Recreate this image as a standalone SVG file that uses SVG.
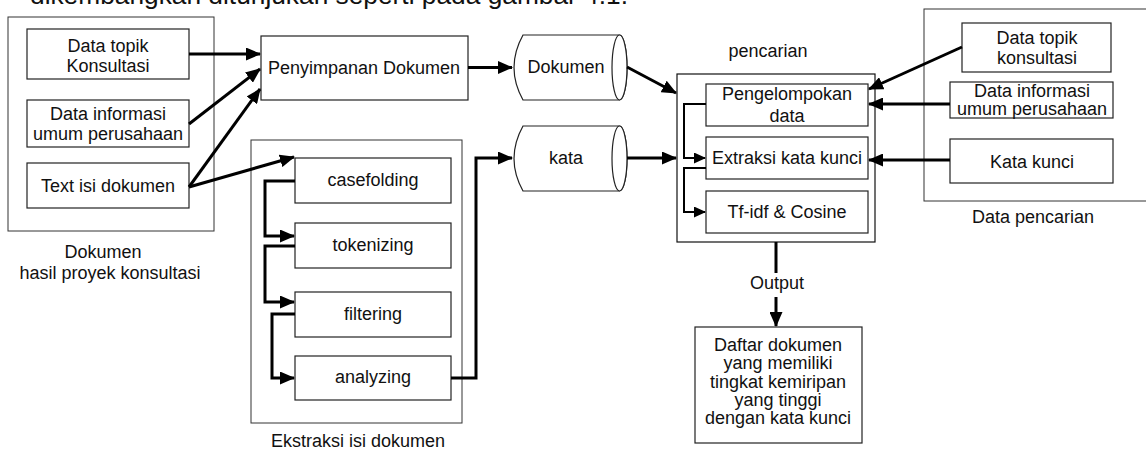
<svg xmlns="http://www.w3.org/2000/svg" width="1146" height="451" viewBox="0 0 1146 451">
<style>
.bg{fill:#fff}
.box{fill:#fff;stroke:#222;stroke-width:1.2}
.outer{fill:none;stroke:#333;stroke-width:1}
.t{font-family:"Liberation Sans",Arial,sans-serif;font-size:18px;fill:#111;text-anchor:middle}
.c{fill:none;stroke:#000;stroke-width:3}
.c2{fill:none;stroke:#000;stroke-width:2}
</style>
<defs>
<marker id="ah" markerUnits="userSpaceOnUse" markerWidth="15" markerHeight="13" refX="14" refY="6.5" orient="auto">
<path d="M0,0 L15,6.5 L0,13 z" fill="#000"/>
</marker>
<marker id="as" markerUnits="userSpaceOnUse" markerWidth="12" markerHeight="11" refX="11" refY="5.5" orient="auto">
<path d="M0,0 L12,5.5 L0,11 z" fill="#000"/>
</marker>
</defs>
<rect class="bg" x="0" y="0" width="1146" height="451"/>
<text x="30" y="4" font-family="Liberation Sans, Arial, sans-serif" font-size="26.5" fill="#111" textLength="598" lengthAdjust="spacingAndGlyphs">dikembangkan ditunjukan seperti pada gambar 4.1.</text>

<g id="dokumen-group">
<rect class="outer" x="8" y="17" width="206" height="214"/>
<text class="t" x="103" y="258">Dokumen</text>
<text class="t" x="110" y="279">hasil proyek konsultasi</text>
</g>
<g id="data-topik-left"><rect class="box" x="27" y="29" width="162" height="50"/><text class="t" x="108" y="52">Data topik</text><text class="t" x="108" y="72">Konsultasi</text></g>
<g id="data-info-left"><rect class="box" x="27" y="100" width="162" height="47"/><text class="t" x="108" y="120">Data informasi</text><text class="t" x="108" y="140">umum perusahaan</text></g>
<g id="text-isi"><rect class="box" x="27" y="163" width="162" height="45"/><text class="t" x="108" y="192">Text isi dokumen</text></g>

<g id="penyimpanan"><rect class="box" x="261" y="36" width="207" height="64"/><text class="t" x="364" y="74">Penyimpanan Dokumen</text></g>

<g id="cyl-dokumen">
<path class="box" d="M523,35 H619.5 A7.5,32.5 0 0 1 619.5,100 H523 Q505,67.5 523,35 z"/>
<ellipse class="box" cx="619.5" cy="67.5" rx="7.5" ry="32.5"/>
<text class="t" x="566" y="73">Dokumen</text>
</g>
<g id="cyl-kata">
<path class="box" d="M523,126 H619.5 A7.5,32.5 0 0 1 619.5,191 H523 Q505,158.5 523,126 z"/>
<ellipse class="box" cx="619.5" cy="158.5" rx="7.5" ry="32.5"/>
<text class="t" x="566" y="164">kata</text>
</g>

<g id="ekstraksi-group">
<rect class="outer" x="251" y="140" width="211" height="283"/>
<text class="t" x="358" y="447">Ekstraksi isi dokumen</text>
</g>
<g id="casefolding"><rect class="box" x="295" y="158" width="156" height="45"/><text class="t" x="373" y="186">casefolding</text></g>
<g id="tokenizing"><rect class="box" x="295" y="223" width="156" height="45"/><text class="t" x="373" y="251">tokenizing</text></g>
<g id="filtering"><rect class="box" x="295" y="292" width="156" height="45"/><text class="t" x="373" y="320">filtering</text></g>
<g id="analyzing"><rect class="box" x="295" y="356" width="156" height="44"/><text class="t" x="373" y="383">analyzing</text></g>

<g id="pencarian-group">
<rect class="outer" x="677" y="74" width="198" height="168" style="stroke:#111;stroke-width:1.2"/>
<text class="t" x="768" y="57">pencarian</text>
</g>
<g id="pengelompokan"><rect class="box" x="706" y="84" width="162" height="42"/><text class="t" x="787" y="100">Pengelompokan</text><text class="t" x="787" y="122">data</text></g>
<g id="extraksi-kata"><rect class="box" x="706" y="137" width="162" height="42"/><text class="t" x="787" y="164">Extraksi kata kunci</text></g>
<g id="tfidf"><rect class="box" x="706" y="191" width="162" height="42"/><text class="t" x="787" y="218">Tf-idf &amp; Cosine</text></g>

<g id="data-pencarian-group">
<rect class="outer" x="924" y="9" width="240" height="192"/>
<text class="t" x="1033" y="223">Data pencarian</text>
</g>
<g id="data-topik-right"><rect class="box" x="962" y="23" width="149" height="49"/><text class="t" x="1037" y="44">Data topik</text><text class="t" x="1037" y="64">konsultasi</text></g>
<g id="data-info-right"><rect class="box" x="950" y="82" width="163" height="36"/><text class="t" x="1032" y="97">Data informasi</text><text class="t" x="1032" y="115">umum perusahaan</text></g>
<g id="kata-kunci"><rect class="box" x="950" y="139" width="163" height="44"/><text class="t" x="1032" y="168">Kata kunci</text></g>

<g id="daftar"><rect class="box" x="695" y="327" width="167" height="116"/>
<text class="t" x="778" y="351">Daftar dokumen</text>
<text class="t" x="778" y="369">yang memiliki</text>
<text class="t" x="778" y="388">tingkat kemiripan</text>
<text class="t" x="778" y="406">yang tinggi</text>
<text class="t" x="778" y="424">dengan kata kunci</text>
</g>

<g id="connectors">
<path class="c" d="M189,54 H260" marker-end="url(#ah)"/>
<path class="c" d="M189,124 L260,69" marker-end="url(#ah)"/>
<path class="c" d="M189,187 L260,89" marker-end="url(#ah)"/>
<path class="c" d="M189,187 L294,157" marker-end="url(#ah)"/>
<path class="c" d="M468,67.5 H512" marker-end="url(#ah)"/>
<path class="c" d="M627,67 L676,93" marker-end="url(#ah)"/>
<path class="c" d="M295,181 H265 V236 H294" marker-end="url(#ah)"/>
<path class="c" d="M295,246 H265 V302 H294" marker-end="url(#ah)"/>
<path class="c" d="M295,314 H272 V378 H294" marker-end="url(#ah)"/>
<path class="c" d="M451,378 H476 V158 H512" marker-end="url(#ah)"/>
<path class="c" d="M627,158 H676" marker-end="url(#ah)"/>
<path class="c2" d="M706,104 H684 V158 H705" marker-end="url(#as)"/>
<path class="c2" d="M706,168 H684 V212 H705" marker-end="url(#as)"/>
<path class="c" d="M962,47 L869,89" marker-end="url(#ah)"/>
<path class="c" d="M950,104 H869" marker-end="url(#ah)"/>
<path class="c" d="M950,160 H869" marker-end="url(#ah)"/>
<path class="c" d="M776,242 V273"/>
<path class="c" d="M776,297 V326" marker-end="url(#ah)"/>
<text class="t" x="777" y="289">Output</text>
</g>
</svg>
